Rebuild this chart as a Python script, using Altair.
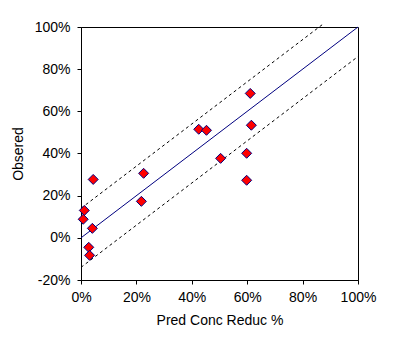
import altair as alt
import pandas as pd

# observed data points (fractions)
pred = [0.611, 0.425, 0.453, 0.615, 0.504, 0.598, 0.598, 0.226, 0.218, 0.044, 0.012, 0.008, 0.041, 0.028, 0.031]
obs = [0.685, 0.515, 0.510, 0.534, 0.377, 0.401, 0.273, 0.306, 0.173, 0.277, 0.130, 0.088, 0.045, -0.045, -0.083]

# reference lines
ident_x = [0.0, 1.0]
ident_y = [0.0, 1.0]
upper_x = [0.0, 0.875]
upper_y = [0.14, 1.015]
lower_x = [0.0, 1.0]
lower_y = [-0.14, 0.86]

pts = pd.DataFrame({"x": pred, "y": obs})
ident = pd.DataFrame({"x": ident_x, "y": ident_y})
upper = pd.DataFrame({"x": upper_x, "y": upper_y})
lower = pd.DataFrame({"x": lower_x, "y": lower_y})

FONT = "Liberation Sans"
LBL = "replace(format(datum.value, '.0%'), '\u2212', '-')"

xscale = alt.Scale(domain=[0, 1], nice=False, zero=False)
yscale = alt.Scale(domain=[-0.2, 1], nice=False, zero=False)

xaxis = alt.Axis(labelExpr=LBL, values=[0, 0.2, 0.4, 0.6, 0.8, 1.0], title="Pred Conc Reduc %",
                 grid=False, domainColor="black", tickColor="black", tickSize=4,
                 labelPadding=6, titlePadding=9, labelFlush=False)
yaxis = alt.Axis(labelExpr=LBL, values=[-0.2, 0, 0.2, 0.4, 0.6, 0.8, 1.0], title="Obsered",
                 grid=False, domainColor="black", tickColor="black", tickSize=4,
                 labelPadding=7, titlePadding=9, labelFlush=False)

base_x = alt.X("x:Q", scale=xscale, axis=xaxis)
base_y = alt.Y("y:Q", scale=yscale, axis=yaxis)

ident_line = alt.Chart(ident).mark_line(color="#000080", strokeWidth=1).encode(x=base_x, y=base_y)
upper_line = alt.Chart(upper).mark_line(color="black", strokeWidth=1, strokeDash=[3, 3]).encode(
    x=alt.X("x:Q", scale=xscale), y=alt.Y("y:Q", scale=yscale))
lower_line = alt.Chart(lower).mark_line(color="black", strokeWidth=1, strokeDash=[3, 3]).encode(
    x=alt.X("x:Q", scale=xscale), y=alt.Y("y:Q", scale=yscale))
points = alt.Chart(pts).mark_point(shape="diamond", filled=True, fill="#ff0000", stroke="#000080",
                                   strokeWidth=1, size=100, opacity=1).encode(
    x=alt.X("x:Q", scale=xscale), y=alt.Y("y:Q", scale=yscale))

chart = alt.layer(ident_line, upper_line, lower_line, points).properties(
    width=277, height=253,
    autosize=alt.AutoSizeParams(type="none"),
    padding={"left": 81, "top": 27, "right": 51, "bottom": 61},
    background="white",
).configure_view(stroke="black", strokeWidth=1).configure_axis(
    labelFont=FONT, titleFont=FONT, labelFontSize=14, titleFontSize=14,
    labelColor="black", titleColor="black", titleFontWeight="normal"
)

chart.save("out.html", embed_options={"renderer": "svg", "actions": False})
